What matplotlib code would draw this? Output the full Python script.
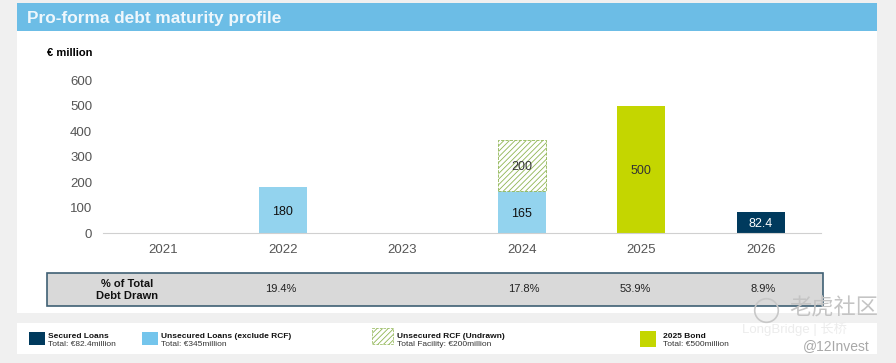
import matplotlib
matplotlib.use('Agg')
import matplotlib.pyplot as plt
from matplotlib.patches import Rectangle

plt.rcParams['font.family'] = ['Liberation Sans', 'Noto Sans CJK SC', 'DejaVu Sans']

# values
years = ['2021', '2022', '2023', '2024', '2025', '2026']
secured = [0, 0, 0, 0, 0, 82.4]
unsecured = [0, 180, 0, 165, 0, 0]
rcf_undrawn = [0, 0, 0, 200, 0, 0]
bond = [0, 0, 0, 0, 500, 0]
y_ticks = [0, 100, 200, 300, 400, 500, 600]
pct_labels = ['19.4%', '17.8%', '53.9%', '8.9%']
pct_x = [281, 524, 635, 763]

NAVY = '#003a5d'
BLUE = '#93d3ee'
LIME = '#c4d600'
HATCH = '#8fb553'

plt.rcParams['hatch.linewidth'] = 0.6
fig = plt.figure(figsize=(8.96, 3.63), dpi=100, facecolor='#f0f0f0')

# page furniture in pixel coordinates
bg = fig.add_axes([0, 0, 1, 1])
bg.set_xlim(0, 896)
bg.set_ylim(363, 0)
bg.axis('off')
bg.add_patch(Rectangle((17, 31), 860, 282, color='white', lw=0))
bg.add_patch(Rectangle((17, 3), 860, 28, color='#6cbde6', lw=0))
bg.add_patch(Rectangle((17, 323), 860, 31, color='white', lw=0))
bg.text(27, 19, 'Pro-forma debt maturity profile', color='#eef7fc', fontsize=12.4,
        fontweight='bold', va='center')
bg.text(47, 53, '€ million', color='black', fontsize=8, fontweight='bold', va='center')

# % of total table
bg.add_patch(Rectangle((47, 273), 776, 33, facecolor='#d9d9d9', edgecolor='#3f6074', lw=1.2))
bg.text(127, 290, '% of Total\nDebt Drawn', fontsize=8, fontweight='bold', ha='center',
        va='center', color='#111111', linespacing=1.2)
for px, lab in zip(pct_x, pct_labels):
    bg.text(px, 289, lab, fontsize=8, ha='center', va='center', color='#222222')

# legend
bg.add_patch(Rectangle((29, 332), 16, 13, color=NAVY, lw=0))
bg.add_patch(Rectangle((142, 332), 16, 13, color='#74c5ec', lw=0))
bg.add_patch(Rectangle((372, 328), 21, 16, facecolor='white', edgecolor=HATCH, hatch='//////', lw=0.5, ls='--'))
bg.add_patch(Rectangle((640, 331), 16, 16, color=LIME, lw=0))
legend_x = [48, 161, 397, 663]
legend_top = ['Secured Loans', 'Unsecured Loans (exclude RCF)', 'Unsecured RCF (Undrawn)', '2025 Bond']
legend_sub = ['Total: €82.4million', 'Total: €345million', 'Total Facility: €200million', 'Total: €500million']
for px, top, sub in zip(legend_x, legend_top, legend_sub):
    bg.text(px, 336, top, fontsize=6, fontweight='bold', va='center', color='#111111')
    bg.text(px, 344.5, sub, fontsize=6, va='center', color='#333333')

# chart
ax = fig.add_axes([103.2 / 896, (363 - 233) / 363, (820.8 - 103.2) / 896, 152.4 / 363])
ax.patch.set_alpha(0)
x = list(range(len(years)))
ax.bar(x, secured, width=0.4, color=NAVY)
ax.bar(x, unsecured, width=0.4, color=BLUE)
# undrawn RCF only exists for 2024, skip the empty bars so their edges don't show
rcf_x = [i for i in x if rcf_undrawn[i] > 0]
ax.bar(rcf_x, [rcf_undrawn[i] for i in rcf_x], width=0.4, bottom=[unsecured[i] for i in rcf_x],
       facecolor='white', edgecolor=HATCH, hatch='//////', lw=0.6, ls='--')
ax.bar(x, bond, width=0.4, color=LIME)

ax.set_xlim(-0.5, 5.5)
ax.set_ylim(0, 600)
ax.set_xticks(x, years)
ax.set_yticks(y_ticks)
ax.tick_params(axis='both', length=0, labelsize=9.5, labelcolor='#555555')
ax.tick_params(axis='x', pad=8)
ax.tick_params(axis='y', pad=8)
for side in ['top', 'right', 'left']:
    ax.spines[side].set_visible(False)
ax.spines['bottom'].set_color('#d0d0d0')

def bar_label(xpos, ypos, text, color):
    ax.annotate(text, (xpos, ypos), xytext=(0, -1.2), textcoords='offset points', ha='center',
                va='center', fontsize=9, color=color)

bar_label(1, 90, '180', '#111111')
bar_label(3, 82.5, '165', '#111111')
bar_label(3, 265, '200', '#333333')
bar_label(4, 250, '500', '#333333')
bar_label(5, 41, '82.4', 'white')

# watermark
bg.set_zorder(0)
ax.set_zorder(1)
wm = fig.add_axes([0, 0, 1, 1])
wm.set_xlim(0, 896)
wm.set_ylim(363, 0)
wm.axis('off')
wm.set_zorder(2)
wm.text(789, 309, '老虎社区', fontsize=16, color='#c4c4c4', va='center')
wm.plot([766], [310], 'o', ms=17, mfc='none', mec='#c8c8c8', mew=1.2)
wm.text(742, 329, 'LongBridge | 长桥', fontsize=9.5, color='#ececec', va='center')
wm.text(803, 346, '@12Invest', fontsize=10, color='#a8a8a8', va='center')

fig.savefig('out.png', dpi=100, facecolor=fig.get_facecolor())
